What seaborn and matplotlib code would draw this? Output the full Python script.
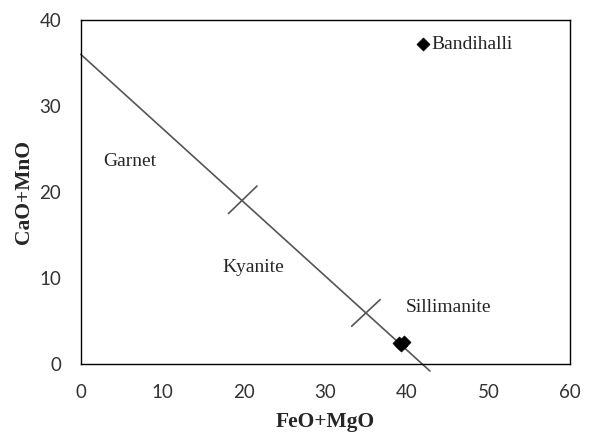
import pandas as pd
import seaborn as sns
import matplotlib.pyplot as plt

# sample points (FeO+MgO, CaO+MnO)
feo_mgo = [42.0, 39.0, 39.6, 39.3]
cao_mno = [37.2, 2.4, 2.6, 2.2]

# garnet-(kyanite/sillimanite) boundary line and the two cross ticks
line_x = [0.0, 42.8]
line_y = [36.0, -0.8]
cross1_x = [18.1, 21.6]
cross1_y = [17.5, 20.7]
cross2_x = [33.2, 36.7]
cross2_y = [4.4, 7.5]

labels = ["Garnet", "Kyanite", "Sillimanite", "Bandihalli"]
label_x = [2.8, 17.3, 39.8, 43.0]
label_y = [23.5, 11.2, 6.6, 37.1]

sns.set_style("white")
plt.rcParams['font.family'] = ['Liberation Serif', 'DejaVu Serif']

df = pd.DataFrame({'FeO+MgO': feo_mgo, 'CaO+MnO': cao_mno})

fig = plt.figure(figsize=(5.94, 4.34), dpi=100)
ax = fig.add_axes([0.136, 0.161, 0.824, 0.793])

ax.plot(line_x, line_y, color='#555555', lw=1.2, clip_on=False, zorder=2)
ax.plot(cross1_x, cross1_y, color='#555555', lw=1.2, zorder=2)
ax.plot(cross2_x, cross2_y, color='#555555', lw=1.2, zorder=2)

sns.scatterplot(data=df, x='FeO+MgO', y='CaO+MnO', marker='D', s=44,
                color='black', edgecolor='black', linewidth=0.5, ax=ax, zorder=3)

for t, x, y in zip(labels, label_x, label_y):
    ax.text(x, y, t, fontsize=14, va='center', ha='left')

ax.set_xlim(0, 60)
ax.set_ylim(0, 40)
ax.set_xticks(range(0, 61, 10))
ax.set_yticks(range(0, 41, 10))
ax.tick_params(direction='in', length=5, width=1, colors='black', pad=14, labelsize=13.5)
for lab in ax.get_xticklabels() + ax.get_yticklabels():
    lab.set_fontfamily('Lato')
    lab.set_color('#333333')
for sp in ax.spines.values():
    sp.set_visible(True)
    sp.set_color('black')
    sp.set_linewidth(1.0)

ax.set_xlabel('FeO+MgO', fontsize=15.5, fontweight='bold', labelpad=8)
ax.set_ylabel('CaO+MnO', fontsize=15.5, fontweight='bold', labelpad=4)

fig.savefig('out.png', dpi=100)
